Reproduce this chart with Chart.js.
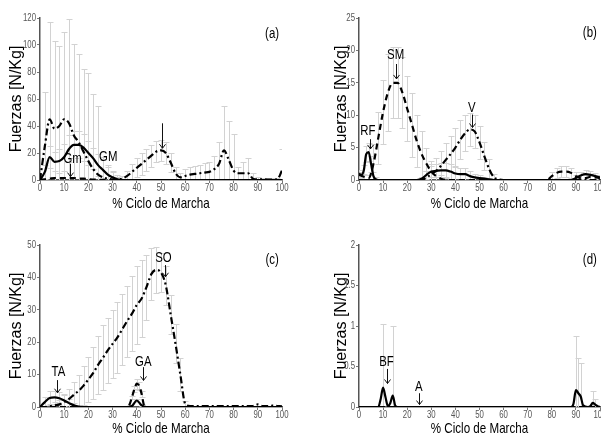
<!DOCTYPE html>
<html><head><meta charset="utf-8">
<script src="https://cdn.jsdelivr.net/npm/chart.js@4.4.0/dist/chart.umd.min.js"></script>
<style>
html,body{margin:0;padding:0;background:#fff;width:601px;height:439px;overflow:hidden;position:relative}
canvas{position:absolute}
</style></head><body>
<canvas id="ca" style="left:0;top:0" width="300" height="215"></canvas>
<canvas id="cb" style="left:300px;top:0" width="321" height="215"></canvas>
<canvas id="cc" style="left:0;top:215px" width="300" height="224"></canvas>
<canvas id="cd" style="left:300px;top:215px" width="321" height="224"></canvas>
<script>
// ---- shared x positions (% gait cycle) ----
const PCT = [0,2,4,6,8,10,12,14,16,18,20,22,24,26,28,30,32,34,36,38,40,42,44,46,48,50,52,54,56,58,60,62,64,66,68,70,72,74,76,78,80,82,84,86,88,90,92,94,96,98,100];
const X_TICKS = [0,10,20,30,40,50,60,70,80,90,100];
const X_TITLE = '% Ciclo de Marcha';
const Y_TITLE = 'Fuerzas [N/Kg]';

// ---- panel (a) ----
const A_I    = [0,25,45,38,40,45,42,33,28,21,14,8,4,2,1,0.5,0.5,1,3,6,9,12,15,18,21,22,20,13,5,2,3,4,4.5,5,5.5,6,8,12,22,15,7,5,5,5,1,0.5,0.5,0.3,0.3,0.5,7];
const A_I_SD = [0,40,72,65,59,65,77,68,65,61,65,56,51,15,10,6,3,2,4,6,7,8,8,8,8,8,8,7,5,3,5,6,6,6,7,7,10,16,33,29,27,5,8,11,4,2,1,1,1,1,16];
const A_GM    = [0,6,17,13.5,14,17,23,26,26,24,20,16,11,7.5,4,2,0.5,0,0,0,0,0,0,0,0,0,0,0,0,0,0,0,0,0,0,0,0,0,0,0,0,0,0,0,0,0,0,0,0,0,0];
const A_GM_SD = [0,5,8,7,9,10,10,10,10,10,9,8,8,7,6,4,2,1,0,0,0,0,0,0,0,0,0,0,0,0,0,0,0,0,0,0,0,0,0,0,0,0,0,0,0,0,0,0,0,0,0];
const A_Gm    = [0,0.5,1,1.5,1.5,1.5,1.5,1.5,1,1,0.5,0.3,0.2,0.2,0.1,0,0,0,0,0,0,0,0,0,0,0,0,0,0,0,0,0,0,0,0,0,0,0,0,0,0,0,0,0,0,0,0,0,0,0,0];
const A_Y_TICKS = [0,20,40,60,80,100,120];

// ---- panel (b) ----
const B_SM    = [0.8,0.5,0.3,2.5,6.5,10.5,13.5,15,15,13.5,11,8.5,6,4,2.5,1.3,0.6,0.2,0,0,0,0,0,0,0,0,0,0,0,0,0,0,0,0,0,0,0,0,0,0,0.6,1.1,1.3,1.3,1.1,0.6,0.3,0.3,0.5,0.4,0.3];
const B_SM_SD = [0.5,0.5,0.5,3,4,5,6,5.5,5.5,5.5,5,5,4,3.5,2.5,1.7,1,0.5,0,0,0,0,0,0,0,0,0,0,0,0,0,0,0,0,0,0,0,0,0,0,0.6,0.8,0.8,0.8,0.8,0.6,0.4,0.4,0.4,0.4,0.4];
const B_V     = [0,0,0,0,0,0,0,0,0,0,0,0,0,0,0.4,0.9,1.4,2.2,3.1,4,5,6.2,7.2,7.8,7.5,5.8,3.7,1.7,0.4,0.1,0,0,0,0,0,0,0,0,0,0,0,0,0,0,0,0,0,0,0,0,0];
const B_V_SD  = [0,0,0,0,0,0,0,0,0,0,0,0,0,0,1,1.5,2,2.3,2.6,2.8,3,3,2.8,2.5,2.5,2.5,2.2,1.5,0.5,0,0,0,0,0,0,0,0,0,0,0,0,0,0,0,0,0,0,0,0,0,0];
const B_O     = [0,0,0,0,0,0,0,0,0,0,0,0,0,0.2,0.8,1.3,1.4,1.5,1.5,1.3,1.0,0.9,0.9,0.6,0.4,0.3,0.2,0.1,0,0,0,0,0,0,0,0,0,0,0,0,0,0,0,0,0,0.3,0.7,0.9,0.8,0.6,0.4];
const B_O_SD  = [0,0,0,0,0,0,0,0,0,0,0,0,0,0.3,0.6,0.8,1,1.1,1.2,1.2,1.1,1,1,0.8,0.6,0.5,0.3,0.2,0,0,0,0,0,0,0,0,0,0,0,0,0,0,0,0,0,0.4,0.6,0.7,0.6,0.5,0.4];
const B_RF_X  = [0,1,2,3,4,5,6,7,8,9,10];
const B_RF    = [1,0.8,1.5,4,4.3,2.5,0.6,0.1,0,0,0];
const B_RF_SD = [0.6,0.5,0.8,1.2,1.4,1.2,0.6,0.3,0,0,0];
const B_Y_TICKS = [0,5,10,15,20,25];

// ---- panel (c) ----
const C_SO    = [0,0,0.2,0.5,0.8,1.5,2.5,3.8,5,6.6,8.5,10.5,13,15.2,17.5,19.5,21.5,24,26.5,28.8,31.5,33.5,37,41,42.3,41.5,37.5,28.5,19.5,10,1,0.3,0.3,0.3,0.3,0.3,0.3,0.3,0.3,0.3,0.3,0.3,0.3,0.3,0.3,0.8,0.3,0.3,0.4,0.3,0.2];
const C_SO_SD = [0,0,0.5,1,1.5,2.5,3,4,5,6,7,8,9,10,10,10.5,11,11,11,11.5,12,12,10,8,7,6,6,6,6,5,1,0,0,0,0,0,0,0,0,0,0,0,0,0,0,0,0,0,0,0,0];
const C_TA    = [0,1.5,2.8,3,2.7,2,1.2,0.5,0.1,0,0,0,0,0,0,0,0,0,0,0.3,2,0.5,0,0,0,0,0,0,0,0,0,0,0,0,0,0,0,0,0,0,0,0,0,0,0,0,0,0,0,0,0];
const C_TA_SD = [0,1.5,2,2,2,1.8,1.2,0.7,0.3,0,0,0,0,0,0,0,0,0,0,0,0.5,0.3,0,0,0,0,0,0,0,0,0,0,0,0,0,0,0,0,0,0,0,0,0,0,0,0,0,0,0,0,0];
const C_GA_X  = [0,35,36,37,38,39,40,41,42,43,44,100];
const C_GA    = [0,0,0,0.8,3,5.5,7.2,6.5,4,0.5,0,0];
const C_GA_SD = [0,0,0,0,0.5,1,1.5,1.2,1,0,0,0];
const C_Y_TICKS = [0,10,20,30,40,50];

// ---- panel (d) ----
const D_BF_X  = [0,8,9,10,11,12,13,14,15,16,88,89,90,91,92,93,95,96,97,98,99,100];
const D_BF    = [0,0,0.1,0.24,0.12,0.01,0.05,0.14,0.02,0,0,0.04,0.21,0.17,0.13,0.02,0,0.01,0.05,0.03,0.01,0];
const D_BF_SD = [0,0,0,0.79,0,0,0,0.86,0,0,0,0,0.67,0.43,0.41,0,0,0,0.15,0.07,0,0];
const D_A_X   = [0,100];
const D_A     = [0,0];
const D_Y_TICKS = [0,0.5,1,1.5,2];

// ---- styles ----
const REG = "'Liberation Sans',Arial,sans-serif";
const SOLID = [], DASH = [6,4], DASHDOT = [7,3,2,3];

function series(xs, ys, sd, dash) {
  return {
    data: xs.map((x, i) => ({x: x, y: ys[i]})),
    sd: sd,
    borderColor: '#000', borderWidth: 2.2, borderDash: dash,
    pointRadius: 0, cubicInterpolationMode: 'monotone', fill: false
  };
}

// condensed text helper (no narrow font installed)
function ntext(ctx, t, x, y, size, sx, align, color) {
  ctx.save();
  ctx.translate(x, y);
  ctx.scale(sx, 1);
  ctx.font = size + 'px ' + REG;
  ctx.fillStyle = color;
  ctx.textAlign = align;
  ctx.textBaseline = 'middle';
  ctx.fillText(t, 0, 0);
  ctx.restore();
}

const errorBars = {
  id: 'errorBars',
  beforeDatasetsDraw(chart) {
    const {ctx, chartArea: a, scales: {x, y}} = chart;
    ctx.save();
    ctx.beginPath(); ctx.rect(a.left, a.top - 2, a.right - a.left, a.bottom - a.top + 2); ctx.clip();
    ctx.strokeStyle = '#d2d2d2'; ctx.lineWidth = 1;
    chart.data.datasets.forEach(ds => {
      if (!ds.sd) return;
      ds.data.forEach((p, i) => {
        const s = ds.sd[i]; if (!s) return;
        const px = Math.round(x.getPixelForValue(p.x)) + 0.5;
        const yt = Math.round(y.getPixelForValue(p.y + s)) + 0.5;
        const yb = Math.round(y.getPixelForValue(p.y - s)) + 0.5;
        ctx.beginPath();
        ctx.moveTo(px, yt); ctx.lineTo(px, yb);
        ctx.moveTo(px - 3, yt); ctx.lineTo(px + 3, yt);
        ctx.moveTo(px - 3, yb); ctx.lineTo(px + 3, yb);
        ctx.stroke();
      });
    });
    ctx.restore();
  }
};

const annot = {
  id: 'annot',
  afterDraw(chart) {
    const o = chart.options.plugins.annot; if (!o) return;
    const {ctx, chartArea: ca, scales: {x, y}} = chart;
    X_TICKS.forEach(v => ntext(ctx, String(v), x.getPixelForValue(v), ca.bottom + 8, 10, 0.78, 'center', '#555'));
    o.yticks.forEach(v => ntext(ctx, String(v), ca.left - 4, y.getPixelForValue(v), 10, 0.78, 'right', '#555'));
    ntext(ctx, X_TITLE, (ca.left + ca.right) / 2, ca.bottom + o.xTitleDy, 14.5, 0.8, 'center', '#000');
    (o.labels || []).forEach(l => ntext(ctx, l.t, x.getPixelForValue(l.x), y.getPixelForValue(l.y), 15, 0.76, 'center', '#000'));
    ctx.save();
    ctx.strokeStyle = '#111'; ctx.lineWidth = 1;
    (o.arrows || []).forEach(a => {
      const px = Math.round(x.getPixelForValue(a.x)) + 0.5;
      const y1 = y.getPixelForValue(a.y1), y2 = y.getPixelForValue(a.y2);
      ctx.beginPath();
      ctx.moveTo(px, y1); ctx.lineTo(px, y2);
      ctx.moveTo(px - 3, y2 - 4); ctx.lineTo(px, y2); ctx.lineTo(px + 3, y2 - 4);
      ctx.stroke();
    });
    ctx.restore();
    if (o.panel) ntext(ctx, o.panel.t, x.getPixelForValue(o.panel.x), y.getPixelForValue(o.panel.y), 14, 0.82, 'center', '#000');
  }
};

function makeChart(id, datasets, ymax, yW, yTitlePad, xH, pad, ann) {
  new Chart(document.getElementById(id), {
    type: 'line',
    data: {datasets: datasets},
    plugins: [errorBars, annot],
    options: {
      responsive: false, animation: false, devicePixelRatio: 1,
      layout: {padding: pad},
      plugins: {legend: {display: false}, tooltip: {enabled: false}, annot: ann},
      scales: {
        x: {
          type: 'linear', min: 0, max: 100,
          afterFit(s) { s.height = xH; },
          afterBuildTicks(s) { s.ticks = X_TICKS.map(v => ({value: v})); },
          ticks: {display: false},
          grid: {drawOnChartArea: false, tickLength: 3, color: '#777'},
          border: {color: '#555', width: 1.5}
        },
        y: {
          type: 'linear', min: 0, max: ymax,
          afterFit(s) { s.width = yW; },
          afterBuildTicks(s) { s.ticks = ann.yticks.map(v => ({value: v})); },
          ticks: {display: false},
          grid: {drawOnChartArea: false, tickLength: 3, color: '#777'},
          border: {color: '#555', width: 1.5},
          title: {display: true, text: Y_TITLE, font: {family: REG, size: 16}, color: '#000', padding: {top: yTitlePad, bottom: 0}}
        }
      }
    }
  });
}

makeChart('ca', [
  series(PCT, A_I, A_I_SD, DASHDOT),
  series(PCT, A_GM, A_GM_SD, SOLID),
  series(PCT, A_Gm, null, DASH)
], 120, 40, 7.4, 35, {left: 0, right: 18, top: 18, bottom: 0}, {
  yticks: A_Y_TICKS, xTitleDy: 23.5,
  labels: [{t: 'Gm', x: 13.5, y: 15.5}, {t: 'GM', x: 28.2, y: 17.5}],
  arrows: [{x: 12.3, y1: 12, y2: 2.5}, {x: 50.5, y1: 42, y2: 23.5}],
  panel: {t: '(a)', x: 95.9, y: 108}
});

makeChart('cb', [
  series(PCT, B_SM, B_SM_SD, DASH),
  series(PCT, B_V, B_V_SD, DASHDOT),
  series(PCT, B_O, B_O_SD, SOLID),
  series(B_RF_X, B_RF, B_RF_SD, SOLID)
], 25, 59, 32.1, 35, {left: 0, right: 21, top: 18, bottom: 0}, {
  yticks: B_Y_TICKS, xTitleDy: 23.5,
  labels: [{t: 'RF', x: 3.7, y: 7.6}, {t: 'SM', x: 15.2, y: 19.3}, {t: 'V', x: 46.8, y: 11.2}],
  arrows: [{x: 4.7, y1: 6.3, y2: 4.8}, {x: 15.3, y1: 17.9, y2: 15.6}, {x: 46.8, y1: 10.1, y2: 8.1}],
  panel: {t: '(b)', x: 95.8, y: 22.7}
});

makeChart('cc', [
  series(PCT, C_SO, C_SO_SD, DASHDOT),
  series(PCT, C_TA, C_TA_SD, SOLID),
  series(C_GA_X, C_GA, C_GA_SD, DASH)
], 50, 40, 7.4, 32, {left: 0, right: 18, top: 30, bottom: 0}, {
  yticks: C_Y_TICKS, xTitleDy: 21.6,
  labels: [{t: 'TA', x: 7.6, y: 10.8}, {t: 'GA', x: 42.7, y: 13.9}, {t: 'SO', x: 51, y: 45.9}],
  arrows: [{x: 7.2, y1: 8.3, y2: 4.4}, {x: 42.5, y1: 12.3, y2: 8.2}, {x: 51.5, y1: 43.8, y2: 40.2}],
  panel: {t: '(c)', x: 95.9, y: 45.4}
});

makeChart('cd', [
  series(D_BF_X, D_BF, D_BF_SD, SOLID),
  series(D_A_X, D_A, null, DASH)
], 2, 59, 32.1, 32, {left: 0, right: 21, top: 30, bottom: 0}, {
  yticks: D_Y_TICKS, xTitleDy: 21.6,
  labels: [{t: 'BF', x: 11.4, y: 0.56}, {t: 'A', x: 24.8, y: 0.25}],
  arrows: [{x: 11.5, y1: 0.47, y2: 0.29}, {x: 24.8, y1: 0.17, y2: 0.03}],
  panel: {t: '(d)', x: 95.8, y: 1.81}
});
</script>
</body></html>
